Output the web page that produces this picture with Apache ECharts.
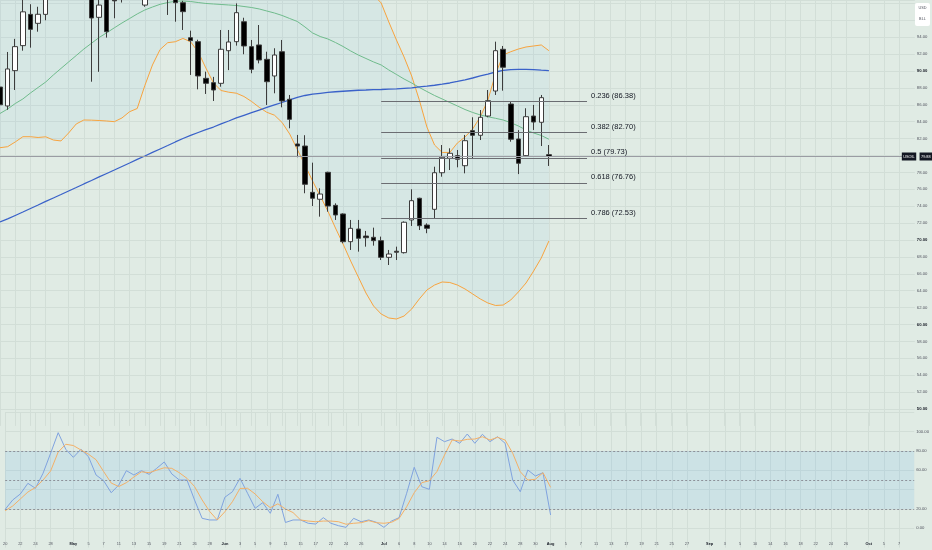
<!DOCTYPE html>
<html lang="en">
<head>
<meta charset="UTF-8">
<title>USOIL</title>
<style>
  html, body { margin: 0; padding: 0; background: #e0ebe4; }
  #box { width: 932px; height: 550px; }
</style>
<script src="https://cdn.jsdelivr.net/npm/echarts@6/dist/echarts.min.js"></script>
</head>
<body>
<div id="box"></div>
<script>
// one slot per trading day, '' where the time scale prints no date
const tickLabels = [
  '20', '', '22', '', '24', '', '28', '', '', 'May', '', '5', '', '7', '', '11', '', '13', '', '15',
  '', '19', '', '21', '', '26', '', '28', '', 'Jun', '', '3', '', '5', '', '9', '', '11', '', '15',
  '', '17', '', '22', '', '24', '', '26', '', '', 'Jul', '', '6', '', '8', '', '10', '', '14', '',
  '16', '', '20', '', '22', '', '24', '', '28', '', '30', '', 'Aug', '', '5', '', '7', '', '11', '',
  '13', '', '17', '', '19', '', '21', '', '25', '', '27', '', '', 'Sep', '', '3', '', '5', '', '10',
  '', '14', '', '16', '', '18', '', '22', '', '24', '', '26', '', '', 'Oct', '', '5', '', '7', '', ''
];

// [open, close, low, high]
const candles = [
  [88.1, 86.0, 85.6, 88.3], [85.86, 90.24, 85.4, 92.25], [90.04, 92.88, 87.75, 93.8], [93.0, 97.0, 92.4, 98.9],
  [96.7, 94.93, 92.76, 97.9], [95.64, 96.71, 94.65, 97.6], [96.7, 99.0, 96.0, 99.6], [99.2, 100.0, 98.6, 100.5],
  [100.0, 99.6, 99.1, 101.2], [99.6, 100.3, 98.8, 100.8], [100.3, 100.9, 99.5, 101.5], [100.9, 100.2, 99.6, 101.8],
  [100.2, 96.27, 88.73, 100.8], [96.35, 97.8, 89.9, 98.9], [98.9, 94.65, 93.95, 99.3], [99.6, 98.3, 96.24, 100.2],
  [99.4, 99.0, 98.1, 100.1], [99.0, 99.8, 98.7, 100.6], [99.8, 99.2, 98.6, 100.4], [97.8, 99.0, 97.6, 99.6],
  [99.0, 99.5, 98.6, 100.2], [99.5, 99.1, 98.5, 100.0], [99.1, 98.7, 96.63, 99.6], [98.7, 98.08, 95.83, 99.2],
  [98.08, 97.02, 94.85, 98.3], [93.94, 93.59, 89.53, 94.77], [93.47, 89.41, 87.83, 93.7], [89.13, 88.54, 87.28, 89.92],
  [88.62, 87.75, 86.45, 89.3], [88.54, 92.57, 88.14, 94.85], [92.4, 93.43, 90.1, 94.85], [93.47, 96.9, 93.0, 98.0],
  [95.83, 92.96, 91.98, 96.3], [92.88, 90.2, 89.73, 93.67], [93.08, 91.3, 90.9, 95.44], [91.38, 88.73, 85.98, 92.28],
  [89.41, 91.89, 87.36, 92.69], [92.28, 86.45, 85.7, 93.67], [86.65, 84.28, 83.22, 87.16], [81.36, 81.12, 79.79, 82.43],
  [81.12, 76.59, 75.53, 82.4], [75.64, 74.94, 74.02, 79.15], [74.82, 75.44, 72.76, 76.12], [78.01, 74.02, 73.35, 78.08],
  [74.1, 72.96, 72.37, 74.34], [73.08, 69.8, 69.61, 73.16], [69.8, 71.38, 68.82, 72.37], [71.3, 70.2, 68.62, 72.37],
  [70.47, 70.27, 69.21, 71.07], [70.32, 69.92, 69.33, 71.46], [69.92, 67.95, 67.63, 70.4], [67.95, 68.34, 67.04, 68.82],
  [68.67, 68.55, 67.63, 69.21], [68.5, 72.1, 68.4, 72.2], [72.37, 74.65, 71.66, 76.0], [74.94, 71.69, 71.18, 75.0],
  [71.77, 71.38, 70.8, 71.97], [73.63, 77.96, 72.57, 78.67], [77.96, 79.79, 77.49, 81.24], [79.67, 80.26, 78.28, 80.85],
  [79.98, 79.55, 78.6, 80.65], [78.79, 81.75, 77.89, 82.43], [82.94, 82.39, 79.67, 84.52], [82.39, 84.52, 81.83, 85.38],
  [84.67, 86.49, 84.52, 87.75], [87.63, 92.4, 87.16, 93.47], [92.57, 90.44, 87.67, 92.96], [86.09, 81.92, 81.63, 86.37],
  [81.95, 79.08, 77.8, 83.0], [79.98, 84.59, 79.86, 85.59], [84.67, 83.96, 83.02, 85.98], [83.93, 86.84, 81.12, 87.16],
  [80.1, 79.88, 78.76, 81.24]
];

// Bollinger bands (upper band is above the visible range until July)
const bbUpper = [
  99.5, 100, 100.5, 101, 101.5, 102, 102.5, 102.8, 103, 103.2, 103.3, 103.3, 103.2, 103, 102.8, 102.6, 102.4, 102.2, 102, 101.8,
  101.4, 101, 100.6, 100.2, 100, 99.8, 100, 100.4, 100.8, 101, 101.2, 101.3, 101.4, 101.5, 101.6, 101.8, 102, 102.3, 102.6, 103,
  103.3, 103.5, 103.6, 103.5, 103.2, 102.6, 101.8, 100.8, 99.8, 99,
  98.05, 95.8, 93.67, 91.66, 89.41, 86.57, 83.37, 81.24, 80.36, 80.36, 81.48, 82.19, 83.14, 84.56, 86.57, 89.65, 91.89, 92.28,
  92.6, 92.84, 92.96, 93.08, 92.4
];
const bbLower = [
  80.92, 81.04, 81.6, 82.22, 82.22, 82.13, 82.21, 81.83, 81.72, 82.66, 83.73, 84.2, 84.18, 84.14, 84.08, 84.0, 84.44, 85.18, 85.56, 88.28,
  90.71, 92.54, 93.35, 93.46, 93.85, 93.46, 92.25, 90.36, 88.58, 87.69, 87.49, 87.37, 86.98, 86.39, 85.7, 85.11, 84.77, 83.91, 82.54, 80.71,
  78.88, 76.98, 75.21, 73.43, 71.42, 69.53, 67.51, 65.62, 63.73, 62.19, 61.24, 60.77, 60.65, 61.0, 61.83, 63.02, 64.08, 64.67, 65.03, 64.97,
  64.67, 64.2, 63.61, 63.02, 62.54, 62.25, 62.3, 62.9, 63.85, 64.91, 66.33, 67.87, 69.88
];
const maGreen = [
  84.97, 85.5, 86.15, 86.69, 87.4, 88.05, 88.7, 89.53, 90.3, 91.07, 91.83, 92.6, 93.28, 93.96, 94.52, 95.11, 95.68, 96.21, 96.75, 97.22,
  97.57, 97.89, 98.1, 98.25, 98.28, 98.22, 98.1, 97.99, 97.93, 97.87, 97.81, 97.75, 97.63, 97.51, 97.34, 97.1, 96.86, 96.57, 96.21, 95.86,
  95.21, 94.5, 94.08, 93.79, 93.37, 92.9, 92.37, 91.89, 91.48, 91.07, 90.71, 90.12, 89.59, 89.05, 88.58, 88.05, 87.57, 87.1, 86.69, 86.27,
  85.86, 85.44, 85.09, 84.8, 84.58, 84.4, 84.2, 83.88, 83.49, 83.02, 82.66, 82.37, 81.92
];
const maBlue = [
  72.13, 72.49, 72.9, 73.31, 73.73, 74.14, 74.56, 74.97, 75.38, 75.8, 76.21, 76.63, 77.04, 77.46, 77.87, 78.28, 78.7, 79.11, 79.53, 79.94,
  80.36, 80.77, 81.18, 81.6, 82.01, 82.37, 82.72, 83.07, 83.37, 83.73, 84.08, 84.44, 84.76, 85.08, 85.38, 85.68, 85.98, 86.27, 86.59, 86.89,
  87.1, 87.25, 87.36, 87.46, 87.54, 87.6, 87.66, 87.72, 87.75, 87.79, 87.81, 87.85, 87.89, 87.95, 88.01, 88.11, 88.2, 88.31, 88.44, 88.58,
  88.76, 88.96, 89.17, 89.41, 89.64, 89.88, 90.08, 90.17, 90.2, 90.2, 90.15, 90.09, 90.04
];

// Stoch RSI
const stochK = [
  19.6, 29.3, 35.5, 46.5, 41.4, 56.9, 77.6, 98.9, 81.7, 73.4, 81.7, 74.0, 55.1, 49.2, 36.8, 44.8, 59.6, 55.1, 59.6, 55.8,
  62.0, 68.6, 56.2, 49.9, 49.9, 29.3, 10.3, 8.6, 8.6, 32.1, 37.8, 51.7, 36.2, 20.7, 26.5, 15.5, 35.2, 6.0, 8.6, 8.6,
  5.2, 4.4, 11.0, 5.2, 2.7, 1.0, 10.3, 6.8, 8.6, 6.2, 1.0, 7.5, 11.0, 36.2, 63.1, 43.0, 40.3, 94.1, 89.6, 92.3,
  87.9, 97.5, 87.9, 97.2, 89.6, 94.7, 87.9, 49.9, 37.8, 60.3, 54.1, 57.5, 13.8
];
const stochD = [
  18.2, 23.1, 30.3, 37.5, 42.2, 49.9, 59.3, 78.9, 86.9, 85.6, 81.0, 76.6, 70.9, 58.7, 46.8, 43.2, 47.2, 53.1, 58.4, 57.5,
  60.1, 62.6, 62.0, 57.4, 51.7, 43.2, 29.3, 17.4, 8.6, 17.1, 27.5, 41.2, 41.4, 35.5, 27.5, 21.3, 25.3, 20.0, 16.3, 8.6,
  7.5, 6.8, 7.5, 7.5, 6.8, 4.2, 5.2, 5.8, 7.9, 5.8, 5.2, 6.2, 10.2, 22.3, 36.8, 47.2, 49.2, 58.7, 75.8, 91.3,
  90.3, 92.0, 92.3, 94.7, 91.3, 94.1, 91.3, 77.6, 58.5, 49.9, 50.7, 57.5, 42.4
];
const stochBands = [80, 50, 20];

// Fibonacci retracement drawn from the July low
const fibRatios = ['0.236', '0.382', '0.5', '0.618', '0.786'];
const fibPrices = [86.38, 82.70, 79.73, 76.76, 72.53];
const fibFromBar = 50;
const fibToBar = 77;

const lastPrice = candles[candles.length - 1][1];

const FONT = '"Liberation Sans", Arial, sans-serif';
const gridColor = '#d2ded7';
const labelColor = '#50535e';
const orange = '#f7a33e';
const isTick = (i, v) => v !== '';
const bbSpan = bbUpper.map((u, i) => +(u - bbLower[i]).toFixed(2));
const lastK = stochK[stochK.length - 1];
const lastD = stochD[stochD.length - 1];

const chart = echarts.init(document.getElementById('box'));

const option = {
  animation: false,
  backgroundColor: '#e0ebe4',
  textStyle: { fontFamily: FONT },
  grid: [
    { left: -1.27, top: 0, width: 916.1, height: 425.9 },
    { left: -1.27, top: 412.26, width: 916.1, height: 135.38 }
  ],
  xAxis: [
    {
      type: 'category', gridIndex: 0, data: tickLabels, boundaryGap: false,
      axisLine: { show: false }, axisTick: { show: false },
      axisLabel: { show: false, interval: isTick },
      splitLine: { show: true, interval: isTick, lineStyle: { color: gridColor, width: 1 } }
    },
    {
      type: 'category', gridIndex: 1, data: tickLabels, boundaryGap: false, offset: -5.5,
      axisLine: { show: false }, axisTick: { show: false },
      axisLabel: {
        interval: isTick, margin: 0, fontSize: 3.9, color: labelColor,
        formatter: v => /^[A-Z]/.test(v) ? '{m|' + v + '}' : v,
        rich: { m: { fontWeight: 'bold', fontSize: 3.9, color: '#131722' } }
      },
      splitLine: { show: true, interval: isTick, lineStyle: { color: gridColor, width: 1 } }
    }
  ],
  yAxis: [
    {
      type: 'value', gridIndex: 0, position: 'right', min: 48, max: 98.4, interval: 2,
      axisLine: { show: false }, axisTick: { show: false },
      splitLine: { show: true, showMinLine: false, lineStyle: { color: gridColor, width: 1 } },
      axisLabel: {
        margin: 2, fontSize: 4.2, color: labelColor,
        formatter: v => {
          if (v < 50 || v > 94 || v % 2 !== 0 || v === 80) return '';
          return v % 10 === 0 ? '{b|' + v.toFixed(2) + '}' : v.toFixed(2);
        },
        rich: { b: { fontWeight: 'bold', fontSize: 4.2, color: '#131722' } }
      }
    },
    {
      type: 'value', gridIndex: 1, position: 'right', min: -20, max: 120, interval: 20,
      axisLine: { show: false }, axisTick: { show: false },
      splitLine: { show: true, showMinLine: false, lineStyle: { color: gridColor, width: 1 } },
      axisLabel: {
        margin: 2, fontSize: 4.2, color: labelColor,
        formatter: v => (v < 0 || v > 100 || v === 40) ? '' : v.toFixed(2)
      }
    }
  ],
  graphic: [
    { type: 'rect', shape: { x: 915, y: 3, width: 15, height: 23, r: 2 }, style: { fill: '#ffffff' } },
    { type: 'text', x: 922.5, y: 8, style: { text: 'USD', fontSize: 3.8, fill: '#50535e', align: 'center', verticalAlign: 'middle', fontFamily: FONT } },
    { type: 'text', x: 922.5, y: 19, style: { text: 'BLL', fontSize: 3.8, fill: '#50535e', align: 'center', verticalAlign: 'middle', fontFamily: FONT } }
  ],
  series: [
    {
      name: 'BB lower', type: 'line', xAxisIndex: 0, yAxisIndex: 0, data: bbLower, stack: 'bb',
      symbol: 'none', lineStyle: { color: orange, width: 1 }, z: 3
    },
    {
      name: 'BB fill', type: 'line', xAxisIndex: 0, yAxisIndex: 0, data: bbSpan, stack: 'bb',
      symbol: 'none', lineStyle: { width: 0, opacity: 0 },
      areaStyle: { color: 'rgba(33,150,243,0.07)' }, z: 1
    },
    {
      name: 'BB upper', type: 'line', xAxisIndex: 0, yAxisIndex: 0, data: bbUpper,
      symbol: 'none', lineStyle: { color: orange, width: 1 }, z: 3
    },
    {
      name: 'MA green', type: 'line', xAxisIndex: 0, yAxisIndex: 0, data: maGreen,
      symbol: 'none', lineStyle: { color: '#6fbb8c', width: 1 }, z: 3
    },
    {
      name: 'MA blue', type: 'line', xAxisIndex: 0, yAxisIndex: 0, data: maBlue,
      symbol: 'none', lineStyle: { color: '#3a62c9', width: 1.3 }, z: 3
    },
    {
      name: 'USOIL', type: 'candlestick', xAxisIndex: 0, yAxisIndex: 0, data: candles, barWidth: 5, z: 4,
      itemStyle: { color: '#ffffff', color0: '#000000', borderColor: '#3c3c3c', borderColor0: '#3c3c3c', borderWidth: 1 },
      markLine: {
        silent: true, symbol: ['none', 'none'],
        data: [
          {
            yAxis: lastPrice,
            lineStyle: { color: '#9a9ca3', width: 1, type: 'solid' },
            label: {
              show: true, position: 'end', distance: -13,
              formatter: '{a|USOIL} {b|' + lastPrice.toFixed(2) + '}',
              rich: {
                a: { backgroundColor: '#131722', color: '#ffffff', fontSize: 3.8, padding: [2, 1.5] },
                b: { backgroundColor: '#131722', color: '#ffffff', fontSize: 3.8, padding: [2, 1.5] }
              }
            }
          }
        ].concat(fibPrices.map((p, k) => [
          {
            coord: [fibFromBar, p],
            lineStyle: { color: '#6b6d72', width: 1, type: 'solid' },
            label: {
              show: true, position: 'end', distance: 4, fontSize: 7.5, color: '#131722',
              offset: [0, -6],
              formatter: fibRatios[k] + ' (' + p.toFixed(2) + ')'
            }
          },
          { coord: [fibToBar, p] }
        ]))
      }
    },
    {
      name: 'Stoch K', type: 'line', xAxisIndex: 1, yAxisIndex: 1, data: stochK,
      symbol: 'none', lineStyle: { color: '#80a3df', width: 1 }, z: 3,
      markArea: {
        silent: true,
        itemStyle: { color: 'rgba(33,150,243,0.1)' },
        data: [[{ yAxis: stochBands[2] }, { yAxis: stochBands[0] }]]
      },
      markLine: {
        silent: true, symbol: ['none', 'none'],
        label: { show: false },
        lineStyle: { color: '#8d9199', width: 1, type: [2, 2] },
        data: stochBands.map(b => ({ yAxis: b })).concat([{
          yAxis: lastK,
          lineStyle: { opacity: 0 },
          label: {
            show: true, position: 'end', distance: 1, fontSize: 3.8, color: '#ffffff',
            backgroundColor: '#5a7ed3', padding: [2, 2], formatter: lastK.toFixed(2)
          }
        }])
      }
    },
    {
      name: 'Stoch D', type: 'line', xAxisIndex: 1, yAxisIndex: 1, data: stochD,
      symbol: 'none', lineStyle: { color: '#f4b067', width: 1 }, z: 3,
      markLine: {
        silent: true, symbol: ['none', 'none'],
        data: [{
          yAxis: lastD,
          lineStyle: { opacity: 0 },
          label: {
            show: true, position: 'end', distance: 1, fontSize: 3.8, color: '#ffffff',
            backgroundColor: '#f5a33d', padding: [2, 2], formatter: lastD.toFixed(2)
          }
        }]
      }
    }
  ]
};

chart.setOption(option);
</script>
</body>
</html>
